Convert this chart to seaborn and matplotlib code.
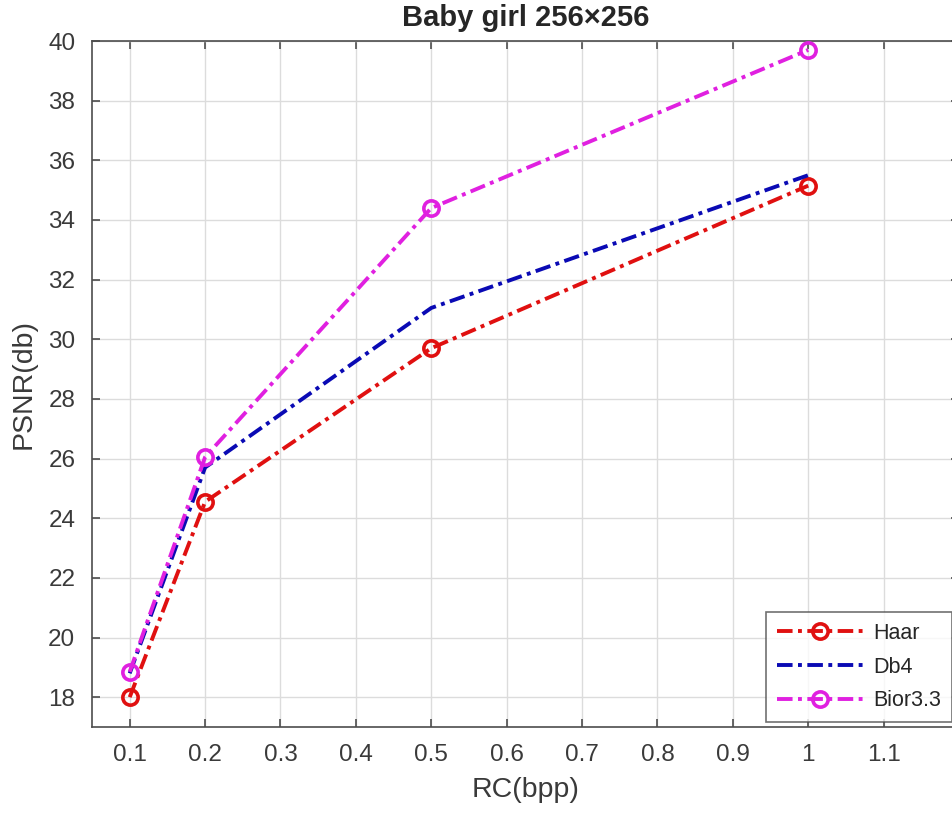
import matplotlib
matplotlib.use("Agg")
import matplotlib.pyplot as plt
import seaborn as sns
import pandas as pd
from matplotlib.ticker import FuncFormatter

# Rate (bpp) vs. PSNR for three wavelet bases
rates = [0.1, 0.2, 0.5, 1.0]
haar = [18.0, 24.55, 29.7, 35.15]
db4 = [18.8, 25.7, 31.05, 35.5]
bior33 = [18.85, 26.05, 34.4, 39.7]
series_names = ["Haar", "Db4", "Bior3.3"]
x_ticks = [0.1, 0.2, 0.3, 0.4, 0.5, 0.6, 0.7, 0.8, 0.9, 1.0, 1.1]
y_ticks = [18, 20, 22, 24, 26, 28, 30, 32, 34, 36, 38, 40]

df = pd.DataFrame({
    "rate": rates * 3,
    "psnr": haar + db4 + bior33,
    "wavelet": [n for n in series_names for _ in rates],
})

sns.set_style("white")
plt.rcParams["font.family"] = ["Liberation Sans", "DejaVu Sans"]

fig = plt.figure(figsize=(9.53, 8.23), dpi=100)
ax = fig.add_axes([92 / 953, 96 / 823, 867 / 953, 686 / 823])

styles = {
    "Haar": dict(color="#e01010", marker="o"),
    "Db4": dict(color="#0a0ab4", marker=None),
    "Bior3.3": dict(color="#e020e0", marker="o"),
}
dash_dot = (0, (4.0, 1.4, 1.0, 1.4))
for name in series_names:
    sub = df[df["wavelet"] == name]
    st = styles[name]
    sns.lineplot(data=sub, x="rate", y="psnr", ax=ax, label=name,
                 color=st["color"], linestyle=dash_dot, linewidth=2.8,
                 marker=st["marker"], markersize=11, markeredgewidth=2.6,
                 markerfacecolor="none", markeredgecolor=st["color"],
                 zorder=3)

ax.set_xlim(0.05, 1.2)
ax.set_ylim(17, 40)
ax.set_xticks(x_ticks)
ax.set_yticks(y_ticks)
ax.xaxis.set_major_formatter(FuncFormatter(lambda v, p: f"{v:g}"))
ax.grid(True, color="#dcdcdc", linewidth=1.0)
ax.set_axisbelow(True)
for s in ax.spines.values():
    s.set_color("#4d4d4d")
    s.set_linewidth(1.2)
ax.tick_params(direction="in", length=6, width=1.2, color="#4d4d4d",
               labelsize=17.5, labelcolor="#3a3a3a", pad=12,
               top=True, right=True, bottom=True, left=True)

ax.set_xlabel("RC(bpp)", fontsize=20.5, color="#3a3a3a", labelpad=8)
ax.set_ylabel("PSNR(db)", fontsize=20.5, color="#3a3a3a", labelpad=8)
ax.set_title("Baby girl 256×256", fontsize=21, fontweight="bold", pad=11)

leg = ax.legend(loc="lower right", bbox_to_anchor=(0.992, 0.007),
                bbox_transform=ax.transAxes, fontsize=15.5, frameon=True,
                fancybox=False, edgecolor="#4d4d4d", handlelength=4.0,
                borderaxespad=0.0, labelspacing=0.6, borderpad=0.5,
                handletextpad=0.5)
leg.get_frame().set_linewidth(1.2)
for t in leg.get_texts():
    t.set_color("#262626")

fig.savefig("out.png", dpi=100)
